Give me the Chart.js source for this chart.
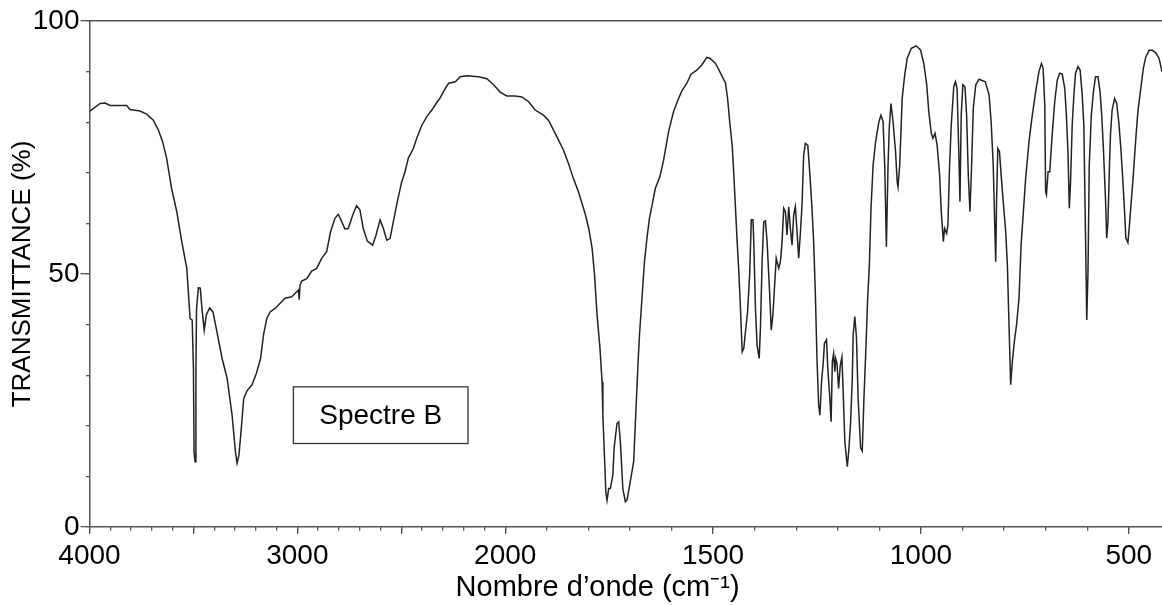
<!DOCTYPE html>
<html>
<head>
<meta charset="utf-8">
<script src="https://cdn.jsdelivr.net/npm/chart.js@4.4.0/dist/chart.umd.min.js"></script>
<style>
  html, body { margin: 0; padding: 0; background: #fff; }
  #wrap { width: 1162px; height: 605px; }
</style>
</head>
<body>
<div id="wrap"><canvas id="spectrum" width="1162" height="605"></canvas></div>
<script>
// IR spectrum: wavenumber (cm-1) -> transmittance (%)
const wavenumbers = [
  3998, 3982, 3949, 3925, 3901, 3821, 3805, 3757, 3725, 3693, 3669, 3648, 3629, 3605, 3580, 3556,
  3532, 3516, 3506, 3500, 3497, 3492, 3488, 3485, 3476, 3467, 3459, 3448, 3438, 3422, 3406, 3387,
  3362, 3338, 3314, 3298, 3290, 3281, 3271, 3258, 3242, 3218, 3197, 3177, 3163, 3147, 3131, 3107,
  3083, 3059, 3027, 3003, 2995, 2991, 2987, 2979, 2955, 2931, 2907, 2883, 2859, 2840, 2819, 2803,
  2787, 2771, 2755, 2734, 2715, 2699, 2683, 2663, 2638, 2622, 2602, 2586, 2570, 2554, 2538, 2519,
  2498, 2482, 2466, 2442, 2426, 2401, 2377, 2353, 2329, 2313, 2288, 2272, 2240, 2216, 2184, 2128,
  2088, 2056, 2023, 1996, 1976, 1960, 1944, 1928, 1908, 1896, 1884, 1872, 1860, 1848, 1836, 1824,
  1815, 1807, 1799, 1791, 1785, 1779, 1772, 1767, 1765, 1761, 1758, 1755, 1751, 1747, 1741, 1738,
  1731, 1727, 1723, 1717, 1711, 1707, 1699, 1691, 1686, 1681, 1677, 1671, 1665, 1659, 1653, 1645,
  1639, 1628, 1619, 1607, 1595, 1583, 1575, 1563, 1553, 1539, 1527, 1515, 1507, 1494, 1482, 1470,
  1465, 1460, 1454, 1450, 1446, 1442, 1438, 1434, 1430, 1426, 1422, 1417, 1412, 1408, 1404, 1402,
  1398, 1394, 1389, 1386, 1382, 1378, 1374, 1370, 1364, 1360, 1356, 1352, 1348, 1342, 1338, 1334,
  1330, 1326, 1322, 1318, 1314, 1310, 1306, 1302, 1298, 1294, 1290, 1286, 1282, 1278, 1272, 1267,
  1262, 1258, 1254, 1250, 1246, 1243, 1239, 1235, 1232, 1227, 1224, 1219, 1216, 1213, 1210, 1207,
  1205, 1202, 1198, 1194, 1190, 1187, 1183, 1177, 1173, 1169, 1165, 1163, 1159, 1155, 1151, 1145,
  1141, 1137, 1132, 1128, 1124, 1120, 1115, 1109, 1101, 1096, 1091, 1087, 1083, 1079, 1076, 1072,
  1067, 1061, 1057, 1055, 1051, 1045, 1039, 1033, 1023, 1011, 1001, 993, 986, 981, 975, 971,
  966, 961, 955, 951, 946, 943, 938, 935, 931, 927, 921, 917, 913, 909, 906, 903,
  899, 894, 890, 886, 882, 878, 874, 868, 860, 845, 836, 831, 826, 823, 820, 818,
  815, 811, 807, 802, 796, 792, 788, 784, 780, 775, 770, 764, 759, 754, 748, 740,
  732, 724, 716, 710, 706, 702, 700, 698, 694, 690, 684, 678, 672, 666, 660, 654,
  650, 646, 643, 640, 636, 632, 628, 622, 617, 612, 608, 605, 601, 598, 595, 590,
  585, 580, 574, 569, 565, 561, 556, 553, 550, 547, 544, 540, 534, 529, 524, 519,
  515, 510, 507, 502, 499, 494, 489, 483, 478, 471, 465, 459, 451, 443, 435, 427,
  420
];
const transmittance = [
  82.2, 82.7, 83.7, 83.8, 83.3, 83.3, 82.5, 82.2, 81.6, 80.4, 78.5, 76.1, 72.9, 66.9, 62.3, 56.4,
  51.1, 41.2, 40.9, 31.4, 14.9, 12.9, 31.4, 43.2, 47.3, 47.2, 43.2, 38.9, 41.9, 43.3, 42.5, 38.6,
  33.3, 29.4, 22.1, 14.9, 12.6, 14.2, 18.8, 25.4, 26.9, 28.1, 30.4, 33.3, 37.9, 41.2, 42.5, 43.2,
  44.2, 45.2, 45.5, 46.5, 46.8, 44.9, 47.8, 48.6, 49.1, 50.6, 51.1, 53.1, 54.4, 58.4, 61.0, 61.8,
  60.4, 58.9, 59.0, 61.6, 63.5, 62.7, 59.0, 56.5, 55.7, 57.6, 60.7, 59.0, 56.7, 57.0, 60.4, 64.3,
  68.2, 70.2, 72.9, 74.8, 76.8, 79.4, 81.1, 82.4, 83.9, 84.8, 86.7, 87.7, 88.0, 89.0, 89.2, 89.0,
  88.6, 87.4, 85.9, 85.2, 85.2, 85.0, 84.1, 82.4, 81.4, 80.4, 78.5, 76.5, 74.5, 71.9, 68.9, 66.3,
  63.9, 61.7, 59.0, 55.1, 49.8, 41.9, 35.3, 28.7, 22.1, 13.6, 7.0, 5.3, 7.6, 7.6, 10.3, 15.6,
  20.5, 20.8, 16.9, 7.6, 5.0, 5.3, 9.0, 12.9, 22.1, 31.4, 37.9, 45.2, 52.4, 57.1, 61.0, 64.3,
  66.9, 69.2, 72.5, 78.1, 82.1, 84.7, 86.2, 87.7, 89.5, 90.3, 91.3, 92.8, 92.6, 91.6, 89.7, 87.7,
  84.7, 80.1, 75.5, 69.6, 63.0, 56.4, 50.5, 43.2, 34.6, 35.3, 38.6, 42.5, 49.8, 60.7, 60.7, 56.4,
  43.2, 35.9, 33.3, 39.2, 52.4, 60.3, 60.5, 56.4, 46.5, 38.9, 41.9, 47.6, 53.1, 51.1, 52.4, 56.4,
  63.0, 62.3, 57.7, 63.3, 59.0, 55.7, 61.7, 63.3, 58.4, 53.1, 58.0, 63.6, 73.5, 75.8, 75.4, 69.6,
  63.0, 56.4, 46.5, 33.3, 24.1, 22.1, 28.7, 32.4, 36.3, 37.0, 31.4, 25.4, 20.8, 32.7, 34.3, 30.7,
  33.3, 32.4, 27.4, 31.9, 33.6, 26.8, 16.9, 11.9, 15.6, 20.8, 29.4, 37.9, 41.6, 37.5, 25.4, 15.6,
  15.0, 25.4, 36.0, 45.2, 51.8, 63.0, 71.5, 76.1, 80.1, 81.4, 80.1, 71.5, 55.4, 71.5, 79.1, 83.7,
  80.1, 74.2, 68.2, 67.2, 71.5, 84.7, 89.3, 92.6, 94.6, 95.1, 94.3, 91.6, 87.4, 82.1, 77.8, 76.8,
  77.8, 75.5, 69.6, 62.3, 56.4, 59.0, 58.0, 59.7, 71.5, 79.4, 87.0, 88.0, 86.7, 74.8, 64.3, 81.4,
  87.4, 87.0, 81.4, 69.6, 62.3, 71.5, 82.7, 87.4, 88.5, 88.0, 85.4, 80.1, 71.5, 61.7, 52.4, 64.3,
  74.8, 74.2, 69.6, 64.3, 58.4, 51.8, 39.9, 28.1, 32.7, 36.8, 39.9, 45.2, 55.7, 61.7, 68.9, 76.1,
  81.4, 86.0, 90.0, 91.6, 90.7, 83.4, 66.3, 65.7, 70.2, 70.2, 77.8, 84.1, 88.3, 89.7, 89.5, 86.7,
  81.4, 73.6, 63.0, 68.2, 79.4, 85.4, 89.7, 91.0, 90.3, 85.4, 79.4, 63.0, 40.9, 50.5, 71.5, 81.4,
  86.0, 89.0, 89.0, 86.0, 81.4, 74.8, 65.0, 57.1, 60.4, 69.6, 77.5, 82.4, 84.7, 83.7, 80.1, 74.8,
  69.6, 62.3, 57.1, 56.2, 59.0, 64.3, 69.6, 76.8, 82.1, 86.7, 90.6, 92.9, 94.2, 94.2, 93.7, 92.6,
  90.0
];

// axis ticks
const xMajorTicks = [4000, 3500, 3000, 2500, 2000, 1500, 1000, 500];
const xLabels = [4000, 3000, 2000, 1500, 1000, 500];
const yMajorTicks = [0, 50, 100];

const noteText = 'Spectre B';
const noteArea = { from: 3019, to: 2179, top: 27.7, bottom: 16.5 };

const axisColor = '#555';
const FONT = '"Liberation Sans", Arial, Helvetica, sans-serif';

// the x axis is twice as stretched below 2000 cm-1
const SPLIT = 2000;
function toAxis(w) {
  return w >= SPLIT ? 4000 - w : (4000 - SPLIT) + 2 * (SPLIT - w);
}
function fromAxis(u) {
  return u <= 4000 - SPLIT ? 4000 - u : SPLIT - (u - (4000 - SPLIT)) / 2;
}

class SplitWavenumberScale extends Chart.LinearScale {
  getPixelForValue(value) {
    const u0 = toAxis(this.max);
    const span = toAxis(this.min) - u0;
    return this.getPixelForDecimal((toAxis(value) - u0) / span);
  }
  getValueForPixel(pixel) {
    const u0 = toAxis(this.max);
    const span = toAxis(this.min) - u0;
    return fromAxis(u0 + this.getDecimalForPixel(pixel) * span);
  }
}
SplitWavenumberScale.id = 'splitWavenumber';
SplitWavenumberScale.defaults = Chart.LinearScale.defaults;
Chart.register(SplitWavenumberScale);

const xMinorTicks = [];
for (let w = 4000; w >= 500; w -= 100) xMinorTicks.push(w);
const yMinorTicks = [];
for (let t = 0; t <= 100; t += 10) yMinorTicks.push(t);

const points = wavenumbers.map((w, i) => ({ x: w, y: transmittance[i] }));

// framed label inside the plot
const noteBox = {
  id: 'noteBox',
  afterDatasetsDraw(chart) {
    const { ctx, scales: { x, y } } = chart;
    const l = x.getPixelForValue(noteArea.from);
    const r = x.getPixelForValue(noteArea.to);
    const t = y.getPixelForValue(noteArea.top);
    const b = y.getPixelForValue(noteArea.bottom);
    ctx.save();
    ctx.fillStyle = '#fff';
    ctx.fillRect(l, t, r - l, b - t);
    ctx.strokeStyle = '#333';
    ctx.lineWidth = 1.3;
    ctx.strokeRect(l, t, r - l, b - t);
    ctx.fillStyle = '#000';
    ctx.font = '28px ' + FONT;
    ctx.textAlign = 'center';
    ctx.textBaseline = 'middle';
    ctx.fillText(noteText, (l + r) / 2, (t + b) / 2 + 1);
    ctx.restore();
  }
};

Chart.defaults.font.family = FONT;
Chart.defaults.color = '#000';

const ctx = document.getElementById('spectrum').getContext('2d');
new Chart(ctx, {
  type: 'line',
  data: {
    datasets: [{
      data: points,
      borderColor: '#222',
      borderWidth: 1.5,
      pointRadius: 0,
      tension: 0,
      fill: false
    }]
  },
  options: {
    responsive: false,
    animation: false,
    events: [],
    layout: { padding: { top: 21, right: 0, bottom: 0, left: 0 } },
    plugins: { legend: { display: false }, tooltip: { enabled: false } },
    scales: {
      x: {
        type: 'splitWavenumber',
        position: 'bottom',
        min: 420,
        max: 4000,
        bounds: 'data',
        afterBuildTicks: s => { s.ticks = xMajorTicks.map(v => ({ value: v })); },
        afterFit: s => { s.height = 78; },
        grid: { drawOnChartArea: false, tickLength: 7, color: axisColor, lineWidth: 1.3 },
        border: { display: true, color: axisColor, width: 1.5 },
        ticks: {
          autoSkip: false, maxRotation: 0, padding: 5,
          font: { size: 28 },
          callback: v => xLabels.includes(v) ? String(v) : ''
        },
        title: {
          display: true,
          // trailing no-break spaces pull the centred title a little to the left, as in the original
          text: 'Nombre d\u2019onde (cm\u207B\u00B9)\u00A0\u00A0\u00A0\u00A0\u00A0\u00A0\u00A0',
          font: { size: 29 },
          padding: { top: 0, bottom: 0 }
        }
      },
      xMinor: {
        type: 'splitWavenumber',
        axis: 'x',
        position: { y: 0 },
        min: 420,
        max: 4000,
        bounds: 'data',
        afterBuildTicks: s => { s.ticks = xMinorTicks.map(v => ({ value: v })); },
        grid: { drawOnChartArea: false, tickLength: 3.5, color: axisColor, lineWidth: 1.3 },
        border: { display: false },
        ticks: { display: false }
      },
      xTop: {
        type: 'linear',
        axis: 'x',
        position: 'top',
        afterFit: s => { s.height = 0; },
        grid: { display: false },
        border: { display: true, color: axisColor, width: 1.5 },
        ticks: { display: false }
      },
      y: {
        type: 'linear',
        position: 'left',
        min: 0,
        max: 100,
        bounds: 'data',
        afterBuildTicks: s => { s.ticks = yMajorTicks.map(v => ({ value: v })); },
        afterFit: s => { s.width = 89.5; },
        grid: { drawOnChartArea: false, tickLength: 9, color: axisColor, lineWidth: 1.3 },
        border: { display: true, color: axisColor, width: 1.5 },
        ticks: { padding: 1, font: { size: 28 } },
        title: {
          display: true,
          text: 'TRANSMITTANCE (%)',
          font: { size: 26 },
          padding: { top: 7, bottom: 0 }
        }
      },
      yMinor: {
        type: 'linear',
        axis: 'y',
        position: { x: 4000 },
        min: 0,
        max: 100,
        bounds: 'data',
        afterBuildTicks: s => { s.ticks = yMinorTicks.map(v => ({ value: v })); },
        grid: { drawOnChartArea: false, tickLength: 4, color: axisColor, lineWidth: 1.3 },
        border: { display: false },
        ticks: { display: false }
      }
    }
  },
  plugins: [noteBox]
});
</script>
</body>
</html>
